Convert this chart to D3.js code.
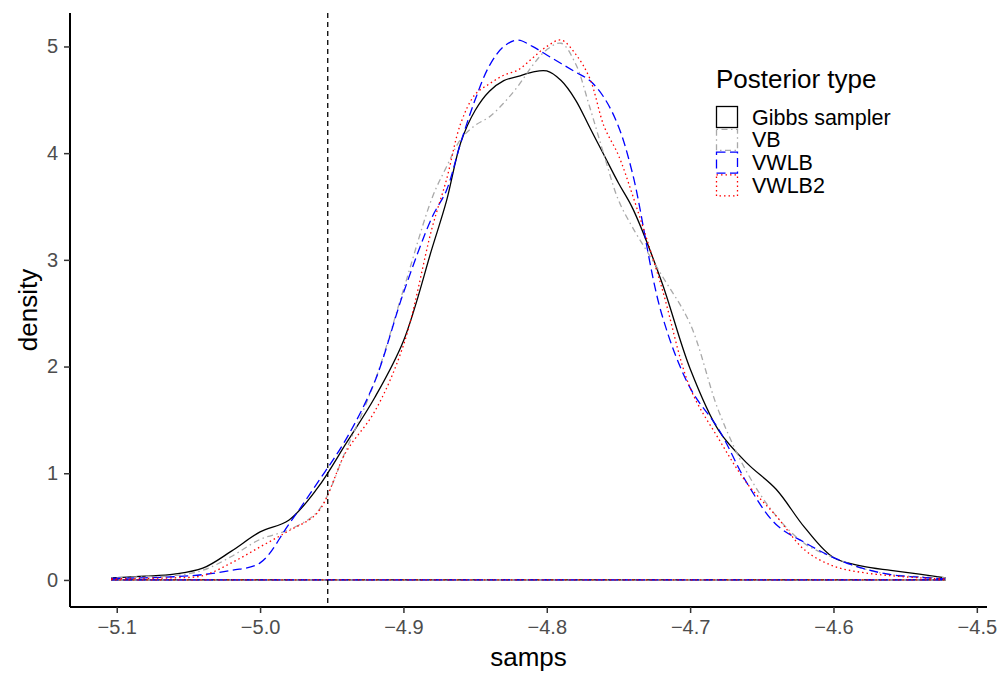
<!DOCTYPE html>
<html>
<head>
<meta charset="utf-8">
<script src="https://cdn.jsdelivr.net/npm/d3@7"></script>
<style>
  body { margin: 0; background: #fff; }
  text { font-family: "Liberation Sans", Arial, sans-serif; }
</style>
</head>
<body>
<div id="chart"></div>
<script>
// grid of x values (samps) the densities were read at
const samps = [-5.1035, -5.08, -5.06, -5.04, -5.02, -5.00, -4.98, -4.96, -4.94, -4.92,
  -4.90, -4.88, -4.87, -4.86, -4.85, -4.84, -4.83, -4.82, -4.81, -4.80, -4.79, -4.78,
  -4.77, -4.76, -4.75, -4.74, -4.72, -4.70, -4.68, -4.66, -4.64, -4.62, -4.60, -4.58,
  -4.56, -4.54, -4.522];

const gibbs = [0.02, 0.035, 0.055, 0.11, 0.27, 0.45, 0.56, 0.86, 1.28, 1.71,
  2.24, 3.11, 3.55, 4.1, 4.4, 4.58, 4.68, 4.72, 4.76, 4.77, 4.68, 4.5,
  4.24, 3.98, 3.72, 3.48, 2.8, 1.98, 1.4, 1.09, 0.85, 0.49, 0.21, 0.13,
  0.09, 0.055, 0.02];

const vb = [0.02, 0.03, 0.04, 0.09, 0.22, 0.38, 0.47, 0.64, 1.22, 1.86,
  2.72, 3.58, 3.87, 4.13, 4.26, 4.34, 4.47, 4.63, 4.82, 4.97, 5.03, 4.84,
  4.43, 3.98, 3.56, 3.3, 2.86, 2.4, 1.58, 1.0, 0.6, 0.34, 0.21, 0.11,
  0.05, 0.03, 0.02];

const vwlb = [0.015, 0.02, 0.03, 0.05, 0.09, 0.16, 0.52, 0.91, 1.32, 1.86,
  2.69, 3.4, 3.65, 4.1, 4.5, 4.82, 5.0, 5.06, 5.0, 4.92, 4.84, 4.76,
  4.68, 4.52, 4.25, 3.8, 2.5, 1.8, 1.41, 0.9, 0.52, 0.35, 0.21, 0.11,
  0.05, 0.025, 0.01];

const vwlb2 = [0.01, 0.015, 0.02, 0.04, 0.16, 0.31, 0.46, 0.63, 1.2, 1.58,
  2.2, 3.3, 3.75, 4.28, 4.55, 4.65, 4.73, 4.78, 4.89, 5.0, 5.06, 4.93,
  4.7, 4.25, 3.98, 3.6, 2.75, 1.8, 1.32, 0.9, 0.6, 0.28, 0.13, 0.07,
  0.04, 0.02, 0.01];

const seriesNames = ['Gibbs sampler', 'VB', 'VWLB', 'VWLB2'];
const seriesColors = ['#000000', '#a9a9a9', '#0000ff', '#ff0000'];
const seriesDashes = [null, '1.5,3.5,6,3.5', '9,4.5', '1.5,3'];
const vline = -4.9528;
const xTicks = [-5.1, -5.0, -4.9, -4.8, -4.7, -4.6, -4.5];
const yTicks = [0, 1, 2, 3, 4, 5];

const width = 1000, height = 686;
const panel = { left: 70, right: 987, top: 13, bottom: 607 };

const svg = d3.select('#chart').append('svg')
  .attr('width', width)
  .attr('height', height);

const x = d3.scaleLinear()
  .domain([-5.1326, -4.4929])
  .range([panel.left, panel.right]);

const y = d3.scaleLinear()
  .domain([-0.2535, 5.3135])
  .range([panel.bottom, panel.top]);

// density outlines, closed down to zero like geom_density
const allSeries = [gibbs, vb, vwlb, vwlb2];
const line = d3.line()
  .x(d => x(d[0]))
  .y(d => y(d[1]))
  .curve(d3.curveCatmullRom.alpha(0.5));

allSeries.forEach((vals, i) => {
  const pts = samps.map((s, j) => [s, vals[j]]);
  const n = samps.length;
  const curve = line(pts);
  const closing = `L${x(samps[n - 1])},${y(0)}L${x(samps[0])},${y(0)}Z`;
  svg.append('path')
    .attr('d', curve + closing)
    .attr('fill', 'none')
    .attr('stroke', seriesColors[i])
    .attr('stroke-width', 1.3)
    .attr('stroke-dasharray', seriesDashes[i]);
});

// dashed reference line
svg.append('line')
  .attr('x1', x(vline)).attr('x2', x(vline))
  .attr('y1', panel.top).attr('y2', panel.bottom)
  .attr('stroke', '#000')
  .attr('stroke-width', 1.3)
  .attr('stroke-dasharray', '5,4');

// axes
const xAxis = svg.append('g')
  .attr('transform', `translate(0,${panel.bottom})`)
  .call(d3.axisBottom(x).tickValues(xTicks).tickFormat(d3.format('.1f')).tickSizeOuter(0).tickSize(6).tickPadding(7));

const yAxis = svg.append('g')
  .attr('transform', `translate(${panel.left},0)`)
  .call(d3.axisLeft(y).tickValues(yTicks).tickFormat(d3.format('d')).tickSizeOuter(0).tickSize(6).tickPadding(6));

[xAxis, yAxis].forEach(g => {
  g.select('.domain').attr('stroke', '#000').attr('stroke-width', 2);
  g.selectAll('.tick line').attr('stroke', '#333').attr('stroke-width', 1.5);
  g.selectAll('.tick text')
    .attr('fill', '#4d4d4d')
    .attr('font-size', 20)
    .attr('font-family', '"Liberation Sans", Arial, sans-serif');
});
xAxis.select('.domain').attr('d', `M${panel.left},0H${panel.right}`);
yAxis.select('.domain').attr('d', `M0,${panel.top}V${panel.bottom}`);

svg.append('text')
  .attr('x', (panel.left + panel.right) / 2)
  .attr('y', 666)
  .attr('text-anchor', 'middle')
  .attr('font-size', 26)
  .text('samps');

svg.append('text')
  .attr('transform', `translate(37,${(panel.top + panel.bottom) / 2}) rotate(-90)`)
  .attr('text-anchor', 'middle')
  .attr('font-size', 26)
  .text('density');

// legend
const legend = svg.append('g').attr('transform', 'translate(716,0)');
legend.append('text')
  .attr('x', 0).attr('y', 88)
  .attr('font-size', 26)
  .text('Posterior type');

seriesNames.forEach((name, i) => {
  const top = 106 + i * 22.8;
  legend.append('rect')
    .attr('x', 0.5).attr('y', top + 0.5)
    .attr('width', 21).attr('height', 21)
    .attr('fill', 'none')
    .attr('stroke', seriesColors[i])
    .attr('stroke-width', 1.3)
    .attr('stroke-dasharray', seriesDashes[i]);
  legend.append('text')
    .attr('x', 36).attr('y', top + 11)
    .attr('dy', '0.35em')
    .attr('font-size', 21.5)
    .text(name);
});
</script>
</body>
</html>
